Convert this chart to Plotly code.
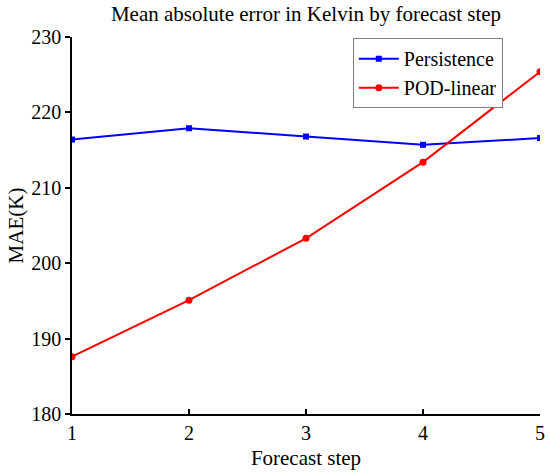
import plotly.graph_objects as go

# forecast steps
steps = [1, 2, 3, 4, 5]

# MAE values (K)
persistence = [216.4, 217.9, 216.8, 215.7, 216.6]
pod_linear = [187.6, 195.1, 203.3, 213.4, 225.4]

y_ticks = [180, 190, 200, 210, 220, 230]

FONT = "Liberation Serif, Times New Roman, serif"

fig = go.Figure()

fig.add_trace(go.Scatter(x=steps, y=persistence, mode="lines+markers",
                         name="Persistence",
                         line=dict(color="#0000ff", width=2),
                         marker=dict(symbol="square", size=6, color="#0000ff")))

fig.add_trace(go.Scatter(x=steps, y=pod_linear, mode="lines+markers",
                         name="POD-linear",
                         line=dict(color="#ff0000", width=2),
                         marker=dict(symbol="circle", size=7, color="#ff0000")))

fig.update_layout(
    width=550, height=476,
    margin=dict(l=72, r=10, t=37, b=62, autoexpand=False),
    paper_bgcolor="white", plot_bgcolor="white",
    font=dict(family=FONT, size=20, color="black"),
    title=dict(text="Mean absolute error in Kelvin by forecast step",
               xref="paper", x=0.5, xanchor="center", y=0.972, yanchor="middle",
               font=dict(family=FONT, size=21, color="black")),
    legend=dict(x=0.6, y=0.997, xanchor="left", yanchor="top",
                bgcolor="white", bordercolor="#808080", borderwidth=1,
                font=dict(family=FONT, size=20, color="black"),
                itemwidth=40, tracegroupgap=0),
    showlegend=True,
)

fig.update_xaxes(range=[1, 5], tickvals=steps, ticks="inside", ticklen=5,
                 tickcolor="black", tickwidth=1.5,
                 showline=True, linecolor="black", linewidth=1.5,
                 showgrid=False, zeroline=False, automargin=False,
                 title=dict(text="Forecast step", font=dict(size=21), standoff=8),
                 tickfont=dict(size=20))

fig.update_yaxes(range=[180, 230], tickvals=y_ticks, ticks="outside", ticklen=5,
                 tickcolor="black", tickwidth=1.5,
                 showline=True, linecolor="black", linewidth=1.5,
                 showgrid=False, zeroline=False, automargin=False,
                 title=dict(text="MAE(K)", font=dict(size=21), standoff=2),
                 tickfont=dict(size=20))

# drop the default page margin so the figure sits at the window's corner
fig.write_html("out.html", config={"displayModeBar": False},
               post_script="document.body.style.margin='0';"
                           "document.body.style.overflow='hidden';")
